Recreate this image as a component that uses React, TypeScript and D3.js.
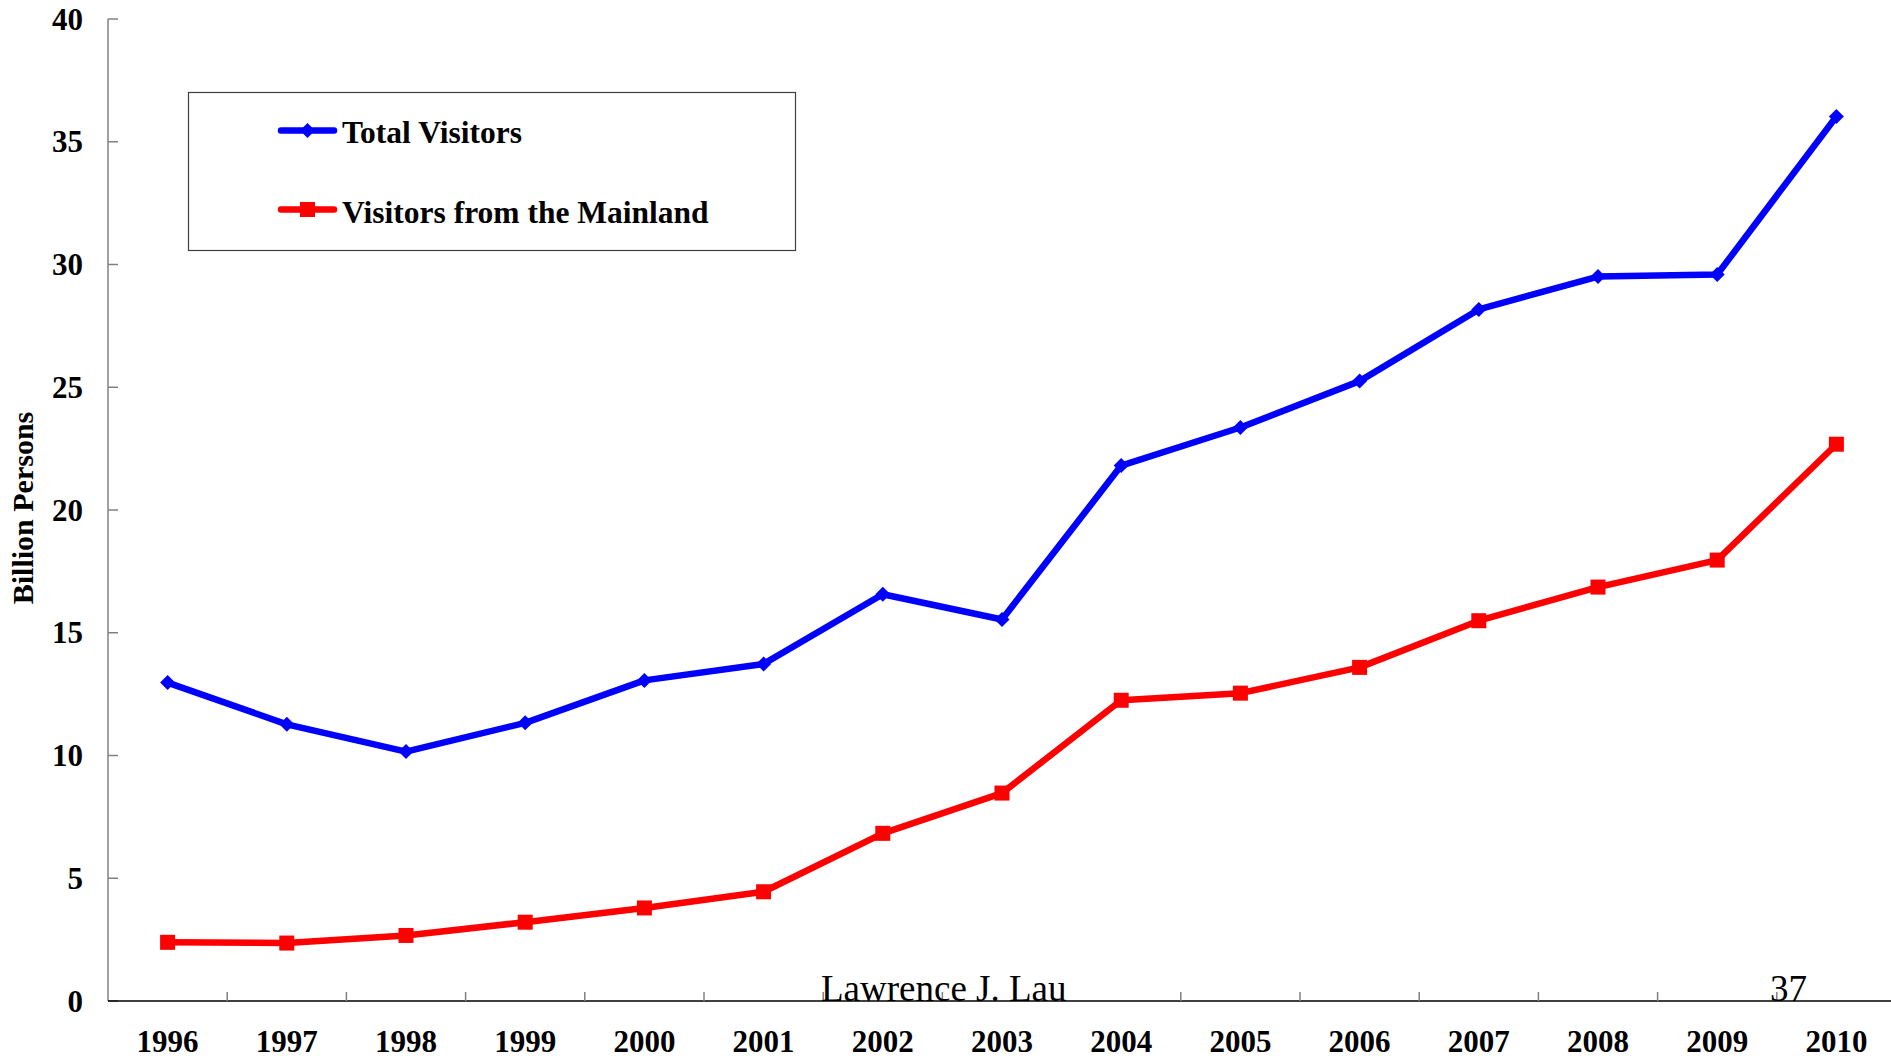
import React from "react";
import * as d3 from "d3";

const years = ["1996","1997","1998","1999","2000","2001","2002","2003","2004","2005","2006","2007","2008","2009","2010"];
const totalVisitors = [12.97, 11.27, 10.16, 11.33, 13.06, 13.73, 16.57, 15.54, 21.81, 23.36, 25.25, 28.17, 29.51, 29.59, 36.03];
const mainlandVisitors = [2.39, 2.36, 2.67, 3.21, 3.79, 4.45, 6.83, 8.47, 12.25, 12.54, 13.59, 15.49, 16.86, 17.96, 22.68];
const yTicks = [0, 5, 10, 15, 20, 25, 30, 35, 40];
const seriesNames = ["Total Visitors", "Visitors from the Mainland"];
const yTitle = "Billion Persons";
const footerLeft = "Lawrence J. Lau";
const footerRight = "37";

const W = 1891;
const H = 1061;
const FONT = "'Liberation Serif', 'Times New Roman', serif";

export default function App() {
  const x0 = 108;
  const step = 119.2;
  const x = d3.scaleBand<string>().domain(years).range([x0, x0 + step * years.length]).padding(0);
  const y = d3.scaleLinear().domain([0, 40]).range([1001, 19]);
  const cx = (d: string) => (x(d) as number) + x.bandwidth() / 2;

  const line = d3.line<number>().x((_, i) => cx(years[i])).y((v) => y(v));

  const diamond = (px: number, py: number, r: number) =>
    `M${px},${py - r}L${px + r},${py}L${px},${py + r}L${px - r},${py}Z`;

  return (
    <svg width={W} height={H} style={{ position: "absolute", left: 0, top: 0, background: "#fff" }} fontFamily={FONT}>
      <rect x={0} y={0} width={W} height={H} fill="#fff" />
      {/* y axis */}
      <line x1={x0} x2={x0} y1={y(40)} y2={y(0)} stroke="#808080" strokeWidth={1.5} />
      {yTicks.map((t) => (
        <g key={t}>
          <line x1={x0} x2={x0 + 10} y1={y(t)} y2={y(t)} stroke="#808080" strokeWidth={1.5} />
          <text x={83} y={y(t) + 10.5} textAnchor="end" fontSize={31} fontWeight="bold" fill="#000">
            {t}
          </text>
        </g>
      ))}
      {/* x axis */}
      <line x1={x0} x2={W} y1={y(0)} y2={y(0)} stroke="#000" strokeWidth={1.5} />
      {years.slice(1).map((yr) => (
        <line key={"t" + yr} x1={x(yr) as number} x2={x(yr) as number} y1={y(0)} y2={y(0) - 9} stroke="#808080" strokeWidth={1.5} />
      ))}
      {years.map((yr) => (
        <text key={"l" + yr} x={cx(yr)} y={1052} textAnchor="middle" fontSize={31} fontWeight="bold" fill="#000">
          {yr}
        </text>
      ))}
      {/* y title */}
      <text transform={`translate(33,508) rotate(-90)`} textAnchor="middle" fontSize={30} fontWeight="bold" fill="#000">
        {yTitle}
      </text>

      {/* series */}
      <path d={line(totalVisitors) || ""} fill="none" stroke="#0000FF" strokeWidth={6.5} strokeLinejoin="round" />
      {totalVisitors.map((v, i) => (
        <path key={"d" + i} d={diamond(cx(years[i]), y(v), 7.5)} fill="#0000FF" />
      ))}
      <path d={line(mainlandVisitors) || ""} fill="none" stroke="#FF0000" strokeWidth={6.5} strokeLinejoin="round" />
      {mainlandVisitors.map((v, i) => (
        <rect key={"s" + i} x={cx(years[i]) - 7.5} y={y(v) - 7.5} width={15} height={15} fill="#FF0000" />
      ))}

      {/* legend */}
      <rect x={188.5} y={92.5} width={607} height={158} fill="#fff" stroke="#404040" strokeWidth={1.2} />
      <line x1={281} x2={334} y1={130.5} y2={130.5} stroke="#0000FF" strokeWidth={6.5} strokeLinecap="round" />
      <path d={diamond(307.5, 130.5, 7.5)} fill="#0000FF" />
      <text x={342} y={143} fontSize={31.5} fontWeight="bold" fill="#000">{seriesNames[0]}</text>
      <line x1={281} x2={334} y1={209.5} y2={209.5} stroke="#FF0000" strokeWidth={6.5} strokeLinecap="round" />
      <rect x={300} y={202} width={15} height={15} fill="#FF0000" />
      <text x={342} y={223} fontSize={31.5} fontWeight="bold" fill="#000">{seriesNames[1]}</text>

      {/* footer */}
      <text x={821} y={1001} fontSize={37} fill="#000">{footerLeft}</text>
      <text x={1770} y={1001} fontSize={37} fill="#000">{footerRight}</text>
    </svg>
  );
}
